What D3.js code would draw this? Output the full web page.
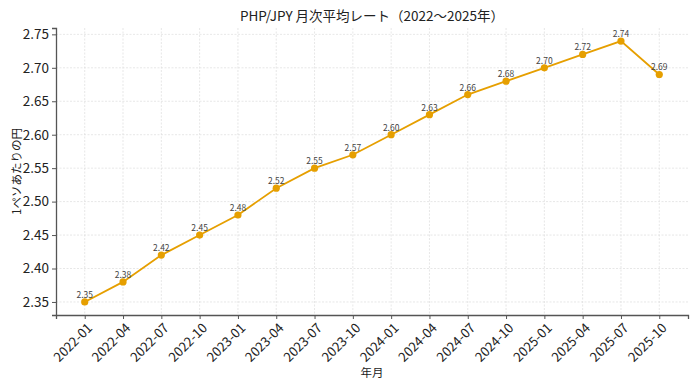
<!DOCTYPE html>
<html lang="ja">
<head>
<meta charset="utf-8">
<title>PHP/JPY</title>
<script src="https://cdn.jsdelivr.net/npm/d3@7"></script>
<style>
  body { margin: 0; background: #fff; }
  text { font-family: "Noto Sans CJK JP", "Noto Sans", sans-serif; }
</style>
</head>
<body>
<script>
// data
var months = ["2022-01","2022-04","2022-07","2022-10","2023-01","2023-04","2023-07","2023-10",
              "2024-01","2024-04","2024-07","2024-10","2025-01","2025-04","2025-07","2025-10"];
var rates = [2.35, 2.38, 2.42, 2.45, 2.48, 2.52, 2.55, 2.57, 2.60, 2.63, 2.66, 2.68, 2.70, 2.72, 2.74, 2.69];
var yTicks = [2.35, 2.40, 2.45, 2.50, 2.55, 2.60, 2.65, 2.70, 2.75];

var W = 700, H = 389;
var mLeft = 56, mRight = 688, mTop = 28, mBottom = 315;
var color = "#E69F00";

var svg = d3.select("body").append("svg")
  .attr("width", W).attr("height", H);

// matplotlib-style 5% margins
var n = months.length;
var x = d3.scaleLinear().domain([-0.75, n - 1 + 0.75]).range([mLeft, mRight]);
var ext = d3.extent(rates), pad = (ext[1] - ext[0]) * 0.05;
var y = d3.scaleLinear().domain([ext[0] - pad, ext[1] + pad]).range([mBottom, mTop]);

// grid
var grid = svg.append("g");
grid.selectAll(".gx").data(months).enter().append("line")
  .attr("x1", function(d, i) { return x(i); }).attr("x2", function(d, i) { return x(i); })
  .attr("y1", mTop).attr("y2", mBottom)
  .attr("stroke", "#dcdcdc").attr("stroke-width", 0.7).attr("stroke-dasharray", "2,1.5");
grid.selectAll(".gy").data(yTicks).enter().append("line")
  .attr("x1", mLeft).attr("x2", mRight)
  .attr("y1", function(d) { return y(d); }).attr("y2", function(d) { return y(d); })
  .attr("stroke", "#dcdcdc").attr("stroke-width", 0.7).attr("stroke-dasharray", "2,1.5");

// axes
var yAxis = svg.append("g").attr("transform", "translate(" + mLeft + ",0)")
  .call(d3.axisLeft(y).tickValues(yTicks).tickFormat(d3.format(".2f")).tickSize(4).tickPadding(3));
var xAxis = svg.append("g").attr("transform", "translate(0," + mBottom + ")")
  .call(d3.axisBottom(x).tickValues(d3.range(n)).tickFormat(function(i) { return months[i]; }).tickSize(4));

[yAxis, xAxis].forEach(function(a) {
  a.select(".domain").attr("stroke", "#555").attr("stroke-width", 1.3);
  a.selectAll(".tick line").attr("stroke", "#555");
  a.selectAll(".tick text").attr("fill", "#222");
});
yAxis.selectAll(".tick text").style("font-size", "13.5px");
xAxis.selectAll(".tick text")
  .style("font-size", "13px")
  .attr("text-anchor", "end")
  .attr("dy", null).attr("y", 0)
  .attr("transform", "translate(4,10) rotate(-45)")
  .attr("dominant-baseline", "central");

// line
var line = d3.line()
  .x(function(d, i) { return x(i); })
  .y(function(d) { return y(d); });
svg.append("path").datum(rates)
  .attr("d", line).attr("fill", "none")
  .attr("stroke", color).attr("stroke-width", 1.8);

svg.selectAll(".pt").data(rates).enter().append("circle")
  .attr("cx", function(d, i) { return x(i); })
  .attr("cy", function(d) { return y(d); })
  .attr("r", 3.6).attr("fill", color);

svg.selectAll(".lbl").data(rates).enter().append("text")
  .attr("x", function(d, i) { return x(i); })
  .attr("y", function(d) { return y(d) - 4; })
  .attr("text-anchor", "middle")
  .style("font-size", "8.5px")
  .attr("fill", "#444")
  .text(function(d) { return d.toFixed(2); });

// titles
svg.append("text")
  .attr("x", (mLeft + mRight) / 2).attr("y", 21)
  .attr("text-anchor", "middle")
  .style("font-size", "13.5px").attr("fill", "#222")
  .text("PHP/JPY 月次平均レート（2022〜2025年）");

svg.append("text")
  .attr("x", (mLeft + mRight) / 2).attr("y", 377)
  .attr("text-anchor", "middle")
  .style("font-size", "11.5px").attr("fill", "#222")
  .text("年月");

svg.append("text")
  .attr("transform", "translate(21," + ((mTop + mBottom) / 2) + ") rotate(-90)")
  .attr("text-anchor", "middle")
  .style("font-size", "11.5px").attr("fill", "#222")
  .text("1ペソあたりの円");
</script>
</body>
</html>
